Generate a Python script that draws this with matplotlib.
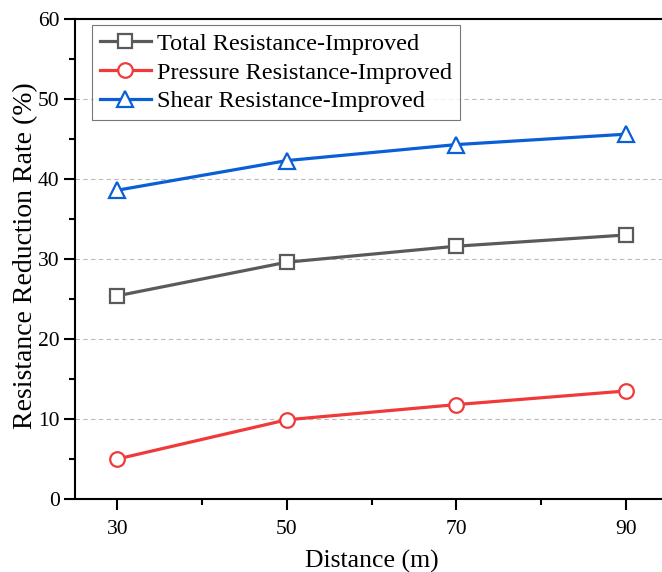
import matplotlib
matplotlib.use("Agg")
import matplotlib.pyplot as plt
from matplotlib.ticker import MultipleLocator

distance = [30, 50, 70, 90]
total = [25.4, 29.6, 31.6, 33.0]
pressure = [5.0, 9.9, 11.8, 13.5]
shear = [38.6, 42.3, 44.3, 45.6]

plt.rcParams['font.family'] = ['Liberation Serif', 'DejaVu Serif']

fig = plt.figure(figsize=(6.62, 5.72), dpi=100)
ax = fig.add_axes([75 / 662, 73 / 572, 593 / 662, 480 / 572])

ax.plot(distance, total, color='#5a5a5a', lw=2.3, marker='s', ms=9.5, mfc='white', mew=1.6,
        label='Total Resistance-Improved')
ax.plot(distance, pressure, color='#f03a3a', lw=2.3, marker='o', ms=10.5, mfc='white', mew=1.6,
        label='Pressure Resistance-Improved')
ax.plot(distance, shear, color='#0a5fd6', lw=2.3, marker='^', ms=12, mfc='white', mew=1.6,
        label='Shear Resistance-Improved')

ax.set_xlim(25, 95)
ax.set_ylim(0, 60)
ax.set_xticks(distance)
ax.xaxis.set_minor_locator(MultipleLocator(10))
ax.yaxis.set_major_locator(MultipleLocator(10))
ax.yaxis.set_minor_locator(MultipleLocator(5))
ax.tick_params(which='major', direction='out', length=8, width=1.5, labelsize=15.5)
ax.tick_params(which='minor', direction='out', length=4.5, width=1.5)
ax.tick_params(axis='x', pad=7)
ax.tick_params(axis='y', pad=3)
ax.spines['right'].set_visible(False)
for s in ax.spines.values():
    s.set_linewidth(1.5)
ax.grid(axis='y', which='major', ls=(0, (4, 3)), color='#bbbbbb', lw=0.8)

ax.set_xlabel('Distance (m)', fontsize=18.5, labelpad=8)
ax.set_ylabel('Resistance Reduction Rate (%)', fontsize=20)
ax.yaxis.set_label_coords(-0.062, 0.508)

leg = ax.legend(loc='upper left', fontsize=17.5, frameon=True, fancybox=False,
                edgecolor='#555555', handlelength=2.1, handletextpad=0.25,
                borderpad=0.32, labelspacing=0.28, borderaxespad=0,
                bbox_to_anchor=(17 / 593, 474 / 480))
leg.get_frame().set_linewidth(0.8)

fig.savefig('out.png', dpi=100)
